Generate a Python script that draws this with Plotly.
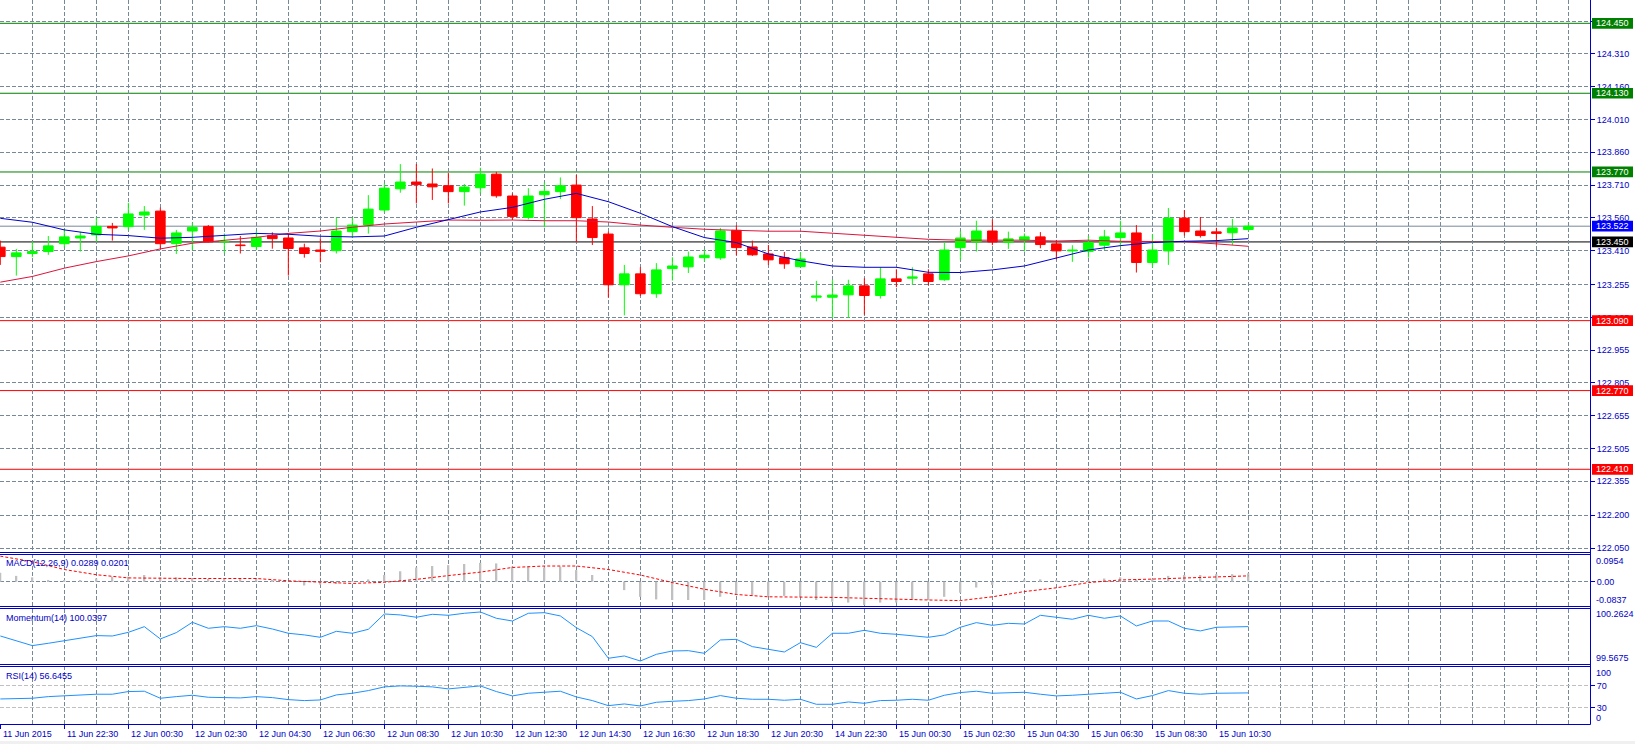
import plotly.graph_objects as go

# ---------------- data ----------------
opens = [123.426, 123.383, 123.397, 123.406, 123.442, 123.468, 123.482, 123.521, 123.520, 123.573,
         123.591, 123.442, 123.500, 123.521, 123.450, 123.436, 123.429, 123.479, 123.468, 123.423,
         123.413, 123.410, 123.497, 123.527, 123.596, 123.693, 123.724, 123.715, 123.707, 123.680,
         123.698, 123.760, 123.660, 123.562, 123.666, 123.680, 123.710, 123.555, 123.486, 123.254,
         123.304, 123.213, 123.328, 123.336, 123.378, 123.377, 123.503, 123.427, 123.395, 123.378,
         123.337, 123.197, 123.197, 123.208, 123.249, 123.205, 123.281, 123.284, 123.304, 123.277,
         123.424, 123.450, 123.500, 123.448, 123.459, 123.473, 123.441, 123.409, 123.407, 123.435,
         123.470, 123.491, 123.356, 123.409, 123.559, 123.500, 123.496, 123.492, 123.507]
highs = [123.456, 123.418, 123.451, 123.477, 123.508, 123.496, 123.562, 123.537, 123.629, 123.614,
         123.607, 123.505, 123.537, 123.527, 123.489, 123.477, 123.500, 123.494, 123.489, 123.442,
         123.467, 123.562, 123.562, 123.664, 123.718, 123.806, 123.806, 123.786, 123.766, 123.715,
         123.789, 123.771, 123.672, 123.696, 123.722, 123.745, 123.756, 123.614, 123.497, 123.345,
         123.334, 123.353, 123.380, 123.406, 123.416, 123.514, 123.526, 123.456, 123.436, 123.404,
         123.404, 123.272, 123.277, 123.277, 123.284, 123.333, 123.325, 123.334, 123.325, 123.447,
         123.500, 123.547, 123.553, 123.497, 123.489, 123.495, 123.459, 123.435, 123.477, 123.505,
         123.547, 123.527, 123.485, 123.605, 123.596, 123.564, 123.515, 123.555, 123.537]
lows = [123.345, 123.296, 123.380, 123.391, 123.424, 123.406, 123.451, 123.456, 123.503, 123.505,
        123.418, 123.395, 123.413, 123.448, 123.398, 123.397, 123.413, 123.419, 123.296, 123.378,
        123.357, 123.397, 123.471, 123.488, 123.585, 123.675, 123.626, 123.642, 123.626, 123.616,
        123.672, 123.652, 123.550, 123.553, 123.517, 123.646, 123.448, 123.436, 123.196, 123.114,
        123.203, 123.194, 123.273, 123.308, 123.360, 123.368, 123.389, 123.386, 123.345, 123.327,
        123.334, 123.178, 123.102, 123.102, 123.117, 123.191, 123.243, 123.254, 123.252, 123.272,
        123.368, 123.406, 123.435, 123.418, 123.406, 123.421, 123.371, 123.359, 123.378, 123.413,
        123.429, 123.310, 123.334, 123.345, 123.479, 123.470, 123.429, 123.436, 123.500]
closes = [123.383, 123.400, 123.406, 123.432, 123.473, 123.477, 123.521, 123.514, 123.578, 123.587,
          123.442, 123.491, 123.517, 123.450, 123.452, 123.433, 123.471, 123.465, 123.420, 123.397,
          123.407, 123.500, 123.527, 123.600, 123.696, 123.724, 123.712, 123.702, 123.680, 123.701,
          123.760, 123.661, 123.566, 123.660, 123.681, 123.707, 123.561, 123.470, 123.254, 123.304,
          123.213, 123.322, 123.340, 123.381, 123.389, 123.500, 123.424, 123.391, 123.368, 123.350,
          123.372, 123.203, 123.207, 123.249, 123.205, 123.281, 123.269, 123.290, 123.269, 123.413,
          123.468, 123.500, 123.450, 123.464, 123.473, 123.438, 123.409, 123.413, 123.447, 123.473,
          123.491, 123.356, 123.413, 123.559, 123.497, 123.479, 123.489, 123.514, 123.522]

# moving averages read at every second bar
ma_bars = list(range(0, 79, 2))
ma_fast = [123.558, 123.540, 123.505, 123.485, 123.479, 123.467, 123.471, 123.480, 123.489, 123.485,
           123.476, 123.473, 123.477, 123.517, 123.552, 123.587, 123.608, 123.645, 123.672, 123.634,
           123.581, 123.520, 123.470, 123.447, 123.395, 123.364, 123.340, 123.334, 123.334, 123.311,
           123.310, 123.322, 123.340, 123.377, 123.413, 123.433, 123.447, 123.453, 123.456, 123.465]
ma_slow = [123.266, 123.292, 123.330, 123.360, 123.386, 123.418, 123.444, 123.456, 123.471, 123.489,
           123.500, 123.517, 123.532, 123.541, 123.550, 123.549, 123.550, 123.547, 123.547, 123.541,
           123.527, 123.517, 123.508, 123.503, 123.499, 123.499, 123.489, 123.482, 123.471, 123.462,
           123.458, 123.458, 123.458, 123.454, 123.458, 123.453, 123.451, 123.451, 123.441, 123.430]

macd_main = [0.031, 0.020, 0.015, 0.006, 0.003, 0.006, 0.011, 0.017, 0.017, 0.023,
             0.015, 0.015, 0.011, 0.009, 0.009, 0.009, 0.011, 0.006, 0.000, -0.013,
             -0.010, -0.008, -0.001, 0.008, 0.023, 0.036, 0.049, 0.054, 0.057, 0.061,
             0.065, 0.063, 0.052, 0.052, 0.049, 0.052, 0.040, 0.023, -0.001, -0.029,
             -0.052, -0.061, -0.063, -0.063, -0.063, -0.052, -0.046, -0.048, -0.049, -0.049,
             -0.052, -0.063, -0.069, -0.072, -0.080, -0.072, -0.072, -0.063, -0.063, -0.052,
             -0.038, -0.020, -0.011, 0.002, 0.008, 0.008, 0.003, 0.006, 0.008, 0.011,
             0.015, 0.008, 0.008, 0.020, 0.023, 0.023, 0.026, 0.026, 0.0289]
macd_signal = [0.088, 0.069, 0.042, 0.024, 0.013, 0.011, 0.011, 0.011, 0.011, 0.003,
               -0.002, -0.006, -0.002, 0.008, 0.021, 0.033, 0.049, 0.054, 0.054, 0.042,
               0.023, -0.003, -0.026, -0.044, -0.052, -0.052, -0.054, -0.057, -0.061, -0.063,
               -0.065, -0.052, -0.034, -0.021, -0.003, 0.006, 0.009, 0.013, 0.017, 0.0201]

momentum = [99.919, 99.859, 99.795, 99.825, 99.859, 99.889, 99.924, 99.919, 99.966, 100.039,
            99.881, 99.962, 100.095, 100.018, 100.039, 100.018, 100.052, 100.009, 99.954, 99.933,
            99.902, 99.979, 99.954, 100.005, 100.202, 100.190, 100.160, 100.198, 100.185, 100.211,
            100.228, 100.147, 100.112, 100.211, 100.219, 100.177, 100.026, 99.911, 99.632, 99.662,
            99.597, 99.683, 99.726, 99.730, 99.696, 99.868, 99.876, 99.782, 99.752, 99.713,
            99.833, 99.773, 99.954, 99.954, 99.992, 99.954, 99.941, 99.919, 99.902, 99.933,
            100.031, 100.091, 100.056, 100.082, 100.073, 100.185, 100.159, 100.134, 100.185, 100.147,
            100.177, 100.048, 100.112, 100.112, 100.018, 99.984, 100.031, 100.031, 100.0397]

rsi = [45.5, 46.2, 46.8, 49.8, 51.7, 52.3, 54.2, 54.2, 59.1, 59.7,
       46.8, 49.8, 52.3, 48.6, 48.6, 47.4, 49.8, 48.0, 44.3, 42.5,
       43.7, 52.9, 56.0, 60.9, 67.7, 69.5, 68.9, 67.7, 64.0, 66.5,
       69.5, 59.1, 51.1, 56.0, 57.8, 59.7, 49.2, 42.5, 33.2, 36.3,
       32.6, 39.4, 41.2, 42.5, 45.5, 51.7, 46.8, 44.9, 44.9, 43.1,
       44.9, 35.7, 35.7, 40.0, 37.5, 42.5, 43.1, 44.9, 43.1, 52.3,
       57.2, 59.7, 56.0, 57.2, 57.8, 54.2, 51.1, 52.3, 54.8, 56.0,
       57.8, 45.5, 51.7, 60.9, 56.0, 54.2, 56.0, 56.0, 56.6455]

time_label_bars = [0, 4, 8, 12, 16, 20, 24, 28, 32, 36, 40, 44, 48, 52, 56, 60, 64, 68, 72, 76]
time_labels = ["11 Jun 2015", "11 Jun 22:30", "12 Jun 00:30", "12 Jun 02:30", "12 Jun 04:30",
               "12 Jun 06:30", "12 Jun 08:30", "12 Jun 10:30", "12 Jun 12:30", "12 Jun 14:30",
               "12 Jun 16:30", "12 Jun 18:30", "12 Jun 20:30", "14 Jun 22:30", "15 Jun 00:30",
               "15 Jun 02:30", "15 Jun 04:30", "15 Jun 06:30", "15 Jun 08:30", "15 Jun 10:30"]

price_ticks = [124.460, 124.310, 124.160, 124.010, 123.860, 123.710, 123.560, 123.410, 123.255,
               123.105, 122.955, 122.805, 122.655, 122.505, 122.355, 122.200, 122.050]

levels_green = [124.450, 124.130, 123.770]
levels_red = [123.090, 122.770, 122.410]
level_black = 123.450
bid_price = 123.522

macd_max, macd_min = 0.0954, -0.0837
mom_max, mom_min = 100.2624, 99.5675

# ---------------- styling ----------------
W, H = 1635, 744
MR, MB = 45, 20
PW, PH = W - MR, H - MB  # plot area 1590 x 724
FONT = "Liberation Sans"
TXT = "#0000c8"
BORDER = "#0000c8"
GRID = "#778899"
GREEN = "#00ff00"
RED = "#ff0000"
DASH = "4px,2px"


def py(pix):
    return 1 - pix / PH


def pxp(pix):
    return pix / PW


n = len(opens)
up = [i for i in range(n) if closes[i] >= opens[i]]
dn = [i for i in range(n) if closes[i] < opens[i]]

fig = go.Figure()


def wicks(idx, color):
    xs, ys = [], []
    for i in idx:
        xs += [i, i, None]
        ys += [lows[i], highs[i], None]
    return go.Scatter(x=xs, y=ys, mode="lines", line=dict(color=color, width=1),
                      xaxis="x", yaxis="y", hoverinfo="skip")


fig.add_trace(wicks(up, GREEN))
fig.add_trace(wicks(dn, RED))

for idx, color in ((up, GREEN), (dn, RED)):
    fig.add_trace(go.Bar(
        x=idx,
        y=[abs(closes[i] - opens[i]) for i in idx],
        base=[min(opens[i], closes[i]) for i in idx],
        width=0.6,
        marker=dict(color=color, line=dict(color=color, width=1)),
        xaxis="x", yaxis="y", hoverinfo="skip"))

fig.add_trace(go.Scatter(x=ma_bars, y=ma_slow, mode="lines", line=dict(color="#dc143c", width=1),
                         xaxis="x", yaxis="y"))
fig.add_trace(go.Scatter(x=ma_bars, y=ma_fast, mode="lines", line=dict(color="#0000cd", width=1),
                         xaxis="x", yaxis="y"))

# MACD
fig.add_trace(go.Bar(x=list(range(n)), y=macd_main, width=0.12, marker=dict(color="#c0c0c0", line=dict(width=0)),
                     xaxis="x", yaxis="y2"))
fig.add_trace(go.Scatter(x=ma_bars, y=macd_signal, mode="lines",
                         line=dict(color=RED, width=1, dash="3px,2px"), xaxis="x", yaxis="y2"))
# Momentum
fig.add_trace(go.Scatter(x=list(range(n)), y=momentum, mode="lines", line=dict(color="#1e90ff", width=1),
                         xaxis="x", yaxis="y3"))
# RSI
fig.add_trace(go.Scatter(x=list(range(n)), y=rsi, mode="lines", line=dict(color="#1e90ff", width=1),
                         xaxis="x", yaxis="y4"))

tickfont = dict(family=FONT, size=9, color=TXT)

fig.update_layout(
    width=W, height=H,
    margin=dict(l=0, r=MR, t=0, b=MB, pad=0),
    paper_bgcolor="white", plot_bgcolor="white",
    showlegend=False, barmode="overlay",
    font=dict(family=FONT, size=9, color=TXT),
    xaxis=dict(domain=[0, 1], range=[-0.02, 99.35], anchor="y4",
               tickmode="array", tickvals=time_label_bars, ticktext=[""] * len(time_label_bars),
               ticks="outside", ticklen=4, tickcolor=BORDER, tickwidth=1,
               showgrid=True, gridcolor=GRID, griddash=DASH, gridwidth=1,
               minor=dict(tickmode="array", tickvals=list(range(0, 100, 2)), showgrid=True,
                          gridcolor=GRID, griddash=DASH, gridwidth=1, ticks=""),
               zeroline=False, showline=False),
    yaxis=dict(domain=[py(552.5), 1], range=[122.0294, 124.5566], side="right", anchor="x",
               tickmode="array", tickvals=price_ticks, ticktext=["%.3f" % v for v in price_ticks],
               ticks="outside", ticklen=4, tickcolor=BORDER, tickfont=tickfont,
               showgrid=True, gridcolor=GRID, griddash=DASH, zeroline=False, showline=False),
    yaxis2=dict(domain=[py(606), py(554)], range=[macd_min, macd_max], side="right", anchor="x",
                tickmode="array", tickvals=[0], ticktext=["0.00"], ticks="outside", ticklen=4,
                tickcolor=BORDER, tickfont=tickfont, showgrid=True, gridcolor=GRID, griddash=DASH,
                zeroline=False, showline=False),
    yaxis3=dict(domain=[py(663.3), py(609.3)], range=[mom_min, mom_max], side="right", anchor="x",
                showticklabels=False, ticks="", showgrid=False, zeroline=False, showline=False),
    yaxis4=dict(domain=[0, py(666)], range=[-0.55, 106.1], side="right", anchor="x",
                tickmode="array", tickvals=[70, 30], ticktext=["70", "30"], ticks="outside", ticklen=4,
                tickcolor=BORDER, tickfont=tickfont, showgrid=True, gridcolor="#c0c0c0", griddash=DASH,
                zeroline=False, showline=False),
)

shapes = []
# horizontal level lines (drawn beneath the candles)
for lv in levels_green:
    shapes.append(dict(type="line", xref="paper", yref="y", x0=0, x1=1, y0=lv, y1=lv,
                       line=dict(color="#008000", width=1), layer="between"))
for lv in levels_red:
    shapes.append(dict(type="line", xref="paper", yref="y", x0=0, x1=1, y0=lv, y1=lv,
                       line=dict(color="#ff0000", width=1), layer="between"))
shapes.append(dict(type="line", xref="paper", yref="y", x0=0, x1=1, y0=level_black, y1=level_black,
                   line=dict(color="black", width=1), layer="between"))
shapes.append(dict(type="line", xref="paper", yref="y", x0=0, x1=1, y0=bid_price, y1=bid_price,
                   line=dict(color=GRID, width=1), layer="between"))

# panel borders
for r in (552, 554, 606, 608, 664, 666, 724):
    shapes.append(dict(type="line", xref="paper", yref="paper", x0=0, x1=pxp(1590.5),
                       y0=py(r + 0.5), y1=py(r + 0.5), line=dict(color=BORDER, width=1), layer="above"))
shapes.append(dict(type="line", xref="paper", yref="paper", x0=pxp(1590.5), x1=pxp(1590.5),
                   y0=1, y1=py(724.5), line=dict(color=BORDER, width=1), layer="above"))
# bottom window strip
shapes.append(dict(type="rect", xref="paper", yref="paper", x0=0, x1=pxp(W), y0=py(741), y1=py(H),
                   fillcolor="#f0f0f0", line=dict(width=0), layer="above"))

annotations = []
# price label boxes
box_half = 0.0245
boxes = [(v, "#008000") for v in levels_green] + [(v, "#ff0000") for v in levels_red] + \
        [(bid_price, "#0000ff"), (level_black, "#000000")]
for v, col in boxes:
    shapes.append(dict(type="rect", xref="paper", yref="y", x0=pxp(1592), x1=pxp(1633),
                       y0=v - box_half, y1=v + box_half, fillcolor=col, line=dict(width=0), layer="above"))
    annotations.append(dict(xref="paper", yref="y", x=pxp(1612.5), y=v, text="%.3f" % v,
                            showarrow=False, xanchor="center", yanchor="middle",
                            font=dict(family=FONT, size=9, color="white")))

# time labels
for b, t in zip(time_label_bars, time_labels):
    annotations.append(dict(xref="x", yref="paper", x=b, y=py(734.3), text=t, showarrow=False,
                            xanchor="left", yanchor="middle", xshift=1,
                            font=dict(family=FONT, size=9, color=TXT)))

# indicator names
annotations += [
    dict(xref="paper", yref="paper", x=pxp(4), y=py(562.7),
         text="MACD(12,26,9) %.4f %.4f" % (macd_main[-1], macd_signal[-1]),
         showarrow=False, xanchor="left", yanchor="middle", font=dict(family=FONT, size=9, color=TXT)),
    dict(xref="paper", yref="paper", x=pxp(4), y=py(617.7), text="Momentum(14) %.4f" % momentum[-1],
         showarrow=False, xanchor="left", yanchor="middle", font=dict(family=FONT, size=9, color=TXT)),
    dict(xref="paper", yref="paper", x=pxp(4), y=py(676), text="RSI(14) %.4f" % rsi[-1],
         showarrow=False, xanchor="left", yanchor="middle", font=dict(family=FONT, size=9, color=TXT)),
]
# subwindow scale labels
for txt, ypix in (("%.4f" % macd_max, 561), ("%.4f" % macd_min, 600),
                  ("%.4f" % mom_max, 614.3), ("%.4f" % mom_min, 658.3),
                  ("100", 673.3), ("0", 718.3)):
    annotations.append(dict(xref="paper", yref="paper", x=pxp(1594), y=py(ypix), text=txt,
                            showarrow=False, xanchor="left", yanchor="middle",
                            font=dict(family=FONT, size=9, color=TXT)))

fig.update_layout(shapes=shapes, annotations=annotations)
fig.write_html("out.html")
